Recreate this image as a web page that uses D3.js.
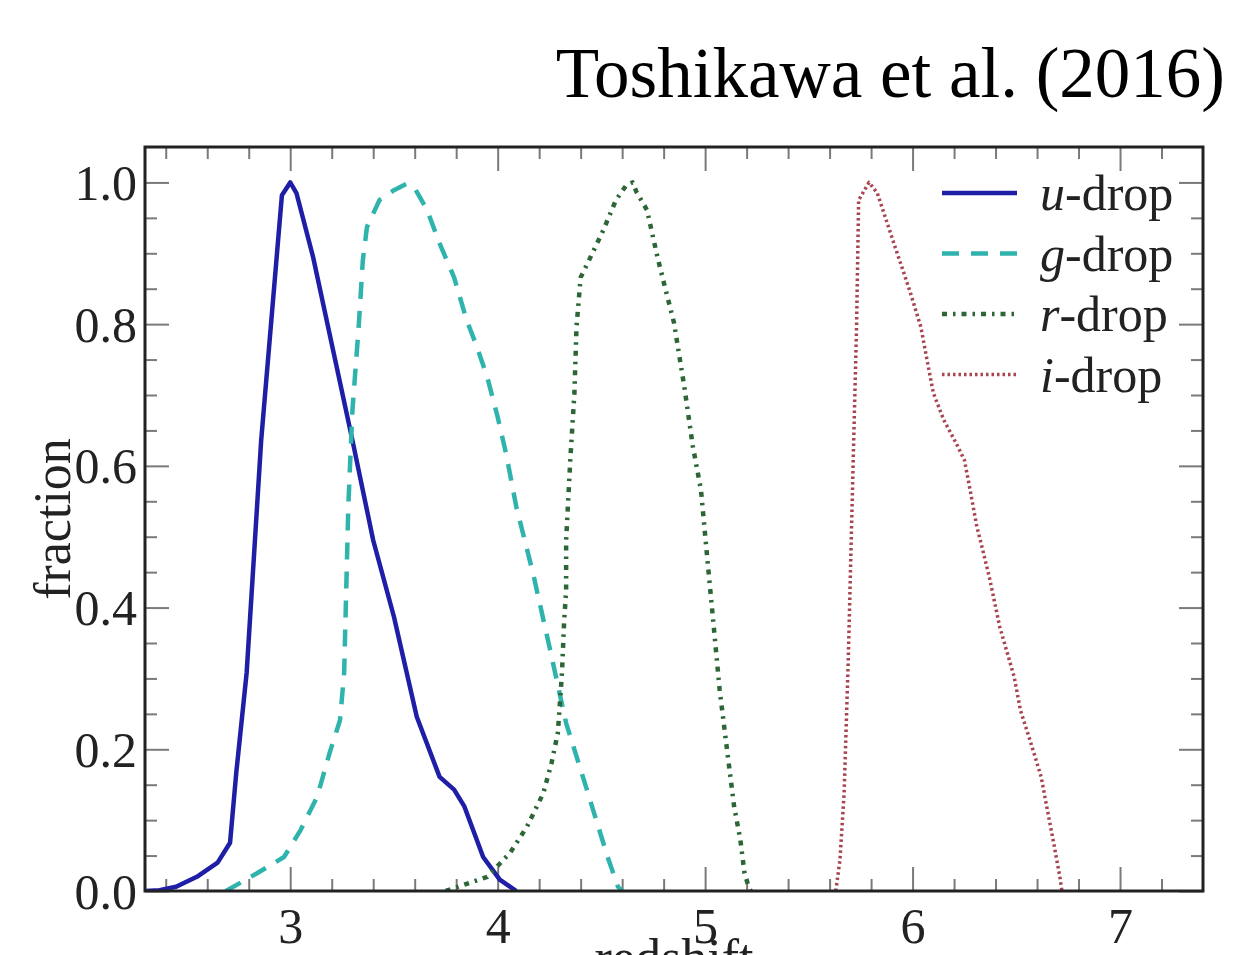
<!DOCTYPE html>
<html>
<head>
<meta charset="utf-8">
<title>Toshikawa et al. (2016)</title>
<script src="https://d3js.org/d3.v7.min.js"></script>
<style>
  body { margin: 0; background: white; }
  svg { display: block; font-family: "Liberation Serif", "DejaVu Serif", serif; }
  .tick text { fill: #222; font-family: "Liberation Serif", "DejaVu Serif", serif; }
</style>
</head>
<body>
<script>
  // Data: redshift and fraction per dropout sample
  var uZ = [2.30, 2.37, 2.45, 2.55, 2.65, 2.71, 2.74, 2.79, 2.83, 2.86, 2.96, 3.00, 3.03, 3.11, 3.30, 3.40, 3.50, 3.61, 3.72, 3.79, 3.84, 3.93, 4.01, 4.09];
  var uF = [0.000, 0.001, 0.006, 0.020, 0.040, 0.068, 0.167, 0.308, 0.495, 0.636, 0.982, 1.000, 0.985, 0.895, 0.636, 0.495, 0.387, 0.246, 0.161, 0.143, 0.119, 0.048, 0.016, 0.000];

  var gZ = [2.69, 2.84, 2.97, 3.05, 3.13, 3.19, 3.24, 3.26, 3.27, 3.28, 3.29, 3.30, 3.33, 3.35, 3.37, 3.43, 3.50, 3.56, 3.60, 3.66, 3.72, 3.79, 3.85, 3.90, 3.95, 4.00, 4.04, 4.09, 4.17, 4.25, 4.33, 4.43, 4.53, 4.58, 4.60];
  var gF = [0.000, 0.025, 0.048, 0.086, 0.133, 0.195, 0.241, 0.308, 0.425, 0.542, 0.612, 0.679, 0.796, 0.890, 0.937, 0.975, 0.989, 0.998, 0.992, 0.961, 0.914, 0.866, 0.806, 0.768, 0.725, 0.669, 0.618, 0.542, 0.449, 0.344, 0.237, 0.143, 0.048, 0.006, 0.000];

  var rZ = [3.75, 3.95, 4.06, 4.14, 4.22, 4.26, 4.29, 4.31, 4.32, 4.33, 4.33, 4.35, 4.37, 4.38, 4.40, 4.44, 4.51, 4.57, 4.62, 4.65, 4.67, 4.72, 4.77, 4.81, 4.85, 4.90, 4.94, 4.98, 5.01, 5.04, 5.07, 5.11, 5.14, 5.17, 5.19, 5.21, 5.22];
  var rF = [0.000, 0.020, 0.054, 0.090, 0.138, 0.181, 0.223, 0.308, 0.378, 0.425, 0.495, 0.608, 0.703, 0.796, 0.866, 0.890, 0.933, 0.975, 0.996, 1.000, 0.986, 0.961, 0.895, 0.848, 0.802, 0.711, 0.629, 0.566, 0.471, 0.378, 0.284, 0.189, 0.119, 0.072, 0.025, 0.006, 0.000];

  var iZ = [5.63, 5.65, 5.67, 5.69, 5.71, 5.73, 5.74, 5.79, 5.83, 5.91, 5.99, 6.04, 6.07, 6.10, 6.15, 6.21, 6.25, 6.28, 6.31, 6.33, 6.37, 6.42, 6.49, 6.52, 6.57, 6.62, 6.65, 6.68, 6.71, 6.72];
  var iF = [0.000, 0.044, 0.138, 0.326, 0.562, 0.796, 0.975, 1.000, 0.985, 0.914, 0.844, 0.796, 0.749, 0.703, 0.665, 0.632, 0.608, 0.562, 0.514, 0.491, 0.443, 0.373, 0.302, 0.255, 0.209, 0.161, 0.114, 0.068, 0.020, 0.000];

  var labels = ["u", "g", "r", "i"];
  var xTicks = [3, 4, 5, 6, 7];
  var yTicks = [0.0, 0.2, 0.4, 0.6, 0.8, 1.0];

  var series = [
    {name: labels[0], z: uZ, f: uF, color: "#1e1ea6", dash: null,        width: 4.5},
    {name: labels[1], z: gZ, f: gF, color: "#2fb3ad", dash: "17,12",     width: 4.5},
    {name: labels[2], z: rZ, f: rF, color: "#2c6536", dash: "5,6,2.5,6", width: 4.5},
    {name: labels[3], z: iZ, f: iF, color: "#a8434f", dash: "2.5,3",     width: 3.5}
  ];

  // Layout
  var width = 1258, height = 955;
  var margin = {top: 147, right: 55, bottom: 64, left: 145};
  var w = width - margin.left - margin.right;
  var h = height - margin.top - margin.bottom;

  var svg = d3.select("body").append("svg")
      .attr("width", width)
      .attr("height", height);

  var g = svg.append("g")
      .attr("transform", "translate(" + margin.left + "," + margin.top + ")");

  var x = d3.scaleLinear().domain([2.3, 7.4]).range([0, w]);
  var y = d3.scaleLinear().domain([0, 1.05]).range([h, 0]);

  // Ticks, all pointing inward, on all four sides
  var xMinor = d3.range(2.4, 7.4, 0.2).filter(function(v) { return Math.abs(v - Math.round(v)) > 0.01; });
  var yMinor = d3.range(0.05, 1.05, 0.05).filter(function(v) { return Math.abs(v * 5 - Math.round(v * 5)) > 0.01; });

  function styleAxis(sel) {
    sel.attr("font-family", null).attr("font-size", null);
    sel.select(".domain").remove();
    sel.selectAll(".tick line").attr("stroke", "#7a7a7a").attr("stroke-width", 2);
  }

  g.append("g").attr("transform", "translate(0," + h + ")")
    .call(d3.axisBottom(x).tickValues(xTicks).tickSizeInner(-24).tickSizeOuter(0).tickPadding(52).tickFormat(d3.format("d")))
    .call(styleAxis)
    .selectAll("text").style("font-size", "50px").attr("dy", "0");
  g.append("g").attr("transform", "translate(0," + h + ")")
    .call(d3.axisBottom(x).tickValues(xMinor).tickSizeInner(-12).tickSizeOuter(0).tickFormat(""))
    .call(styleAxis);
  g.append("g")
    .call(d3.axisTop(x).tickValues(xTicks).tickSizeInner(-24).tickSizeOuter(0).tickFormat(""))
    .call(styleAxis);
  g.append("g")
    .call(d3.axisTop(x).tickValues(xMinor).tickSizeInner(-12).tickSizeOuter(0).tickFormat(""))
    .call(styleAxis);

  g.append("g")
    .call(d3.axisLeft(y).tickValues(yTicks).tickSizeInner(-24).tickSizeOuter(0).tickPadding(8).tickFormat(d3.format(".1f")))
    .call(styleAxis)
    .selectAll("text").style("font-size", "50px").attr("dy", "0.34em");
  g.append("g")
    .call(d3.axisLeft(y).tickValues(yMinor).tickSizeInner(-12).tickSizeOuter(0).tickFormat(""))
    .call(styleAxis);
  g.append("g").attr("transform", "translate(" + w + ",0)")
    .call(d3.axisRight(y).tickValues(yTicks).tickSizeInner(-24).tickSizeOuter(0).tickFormat(""))
    .call(styleAxis);
  g.append("g").attr("transform", "translate(" + w + ",0)")
    .call(d3.axisRight(y).tickValues(yMinor).tickSizeInner(-12).tickSizeOuter(0).tickFormat(""))
    .call(styleAxis);

  // Curves
  g.append("clipPath").attr("id", "plot-clip")
    .append("rect").attr("width", w).attr("height", h);

  var line = d3.line()
      .x(function(d) { return x(d[0]); })
      .y(function(d) { return y(d[1]); });

  var curves = g.append("g").attr("clip-path", "url(#plot-clip)");
  series.forEach(function(s) {
    var pts = d3.zip(s.z, s.f);
    var p = curves.append("path")
      .datum(pts)
      .attr("d", line)
      .attr("fill", "none")
      .attr("stroke", s.color)
      .attr("stroke-width", s.width)
      .attr("stroke-linejoin", "round");
    if (s.dash) p.attr("stroke-dasharray", s.dash);
  });

  // Frame
  g.append("rect")
    .attr("width", w).attr("height", h)
    .attr("fill", "none")
    .attr("stroke", "#222")
    .attr("stroke-width", 3);

  // Legend (no frame)
  var legend = g.append("g").attr("transform", "translate(797,46)");
  series.forEach(function(s, i) {
    var row = legend.append("g").attr("transform", "translate(0," + (i * 60.5) + ")");
    var l = row.append("line")
      .attr("x1", 0).attr("x2", 75)
      .attr("stroke", s.color)
      .attr("stroke-width", s.width);
    if (s.dash) l.attr("stroke-dasharray", s.dash);
    var t = row.append("text")
      .attr("x", 98).attr("y", 17)
      .style("font-size", "50px")
      .attr("fill", "#222");
    t.append("tspan").style("font-style", "italic").text(s.name);
    t.append("tspan").text("-drop");
  });

  // Axis labels
  svg.append("text")
    .attr("transform", "translate(70," + (margin.top + h / 2) + ") rotate(-90)")
    .attr("text-anchor", "middle")
    .style("font-size", "52px")
    .attr("fill", "#222")
    .text("fraction");

  svg.append("text")
    .attr("x", margin.left + w / 2)
    .attr("y", 975)
    .attr("text-anchor", "middle")
    .style("font-size", "52px")
    .attr("fill", "#222")
    .text("redshift");

  // Title
  svg.append("text")
    .attr("x", 1225)
    .attr("y", 97)
    .attr("text-anchor", "end")
    .style("font-size", "71px")
    .attr("fill", "#000")
    .text("Toshikawa et al. (2016)");
</script>
</body>
</html>
